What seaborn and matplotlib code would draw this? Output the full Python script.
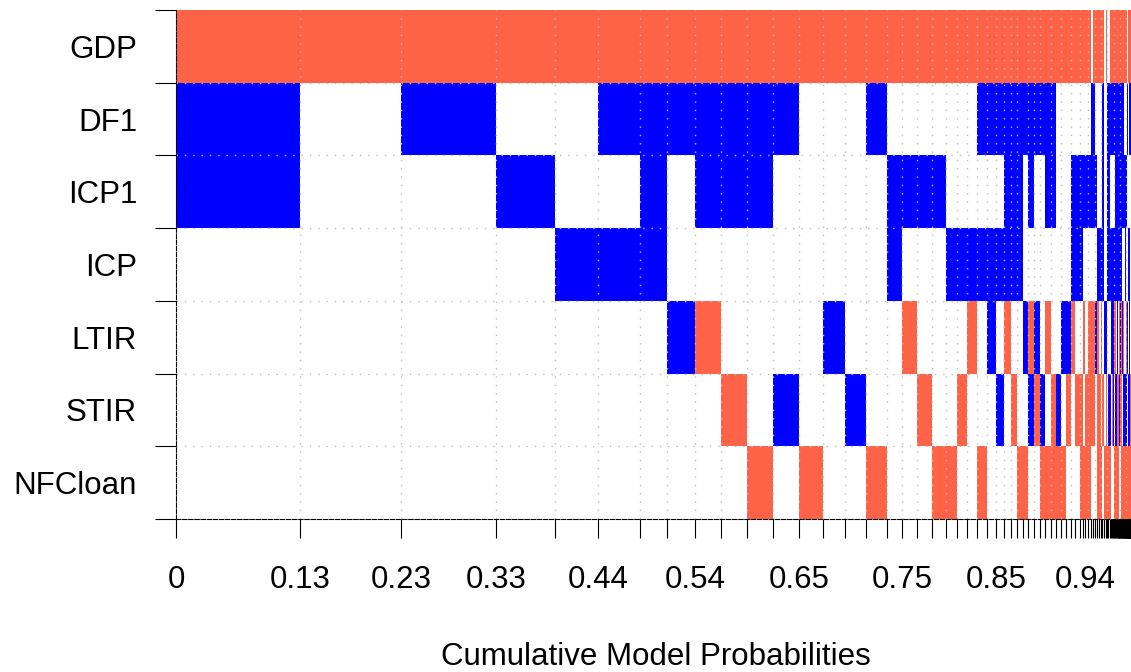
import numpy as np
import pandas as pd
import matplotlib
matplotlib.use("Agg")
import matplotlib.pyplot as plt
import seaborn as sns

# ---------------- data ----------------
variables = ["GDP", "DF1", "ICP1", "ICP", "LTIR", "STIR", "NFCloan"]

# posterior model probabilities (column widths), best model first
model_probs = [
    0.1286, 0.1048, 0.0985, 0.0612, 0.0446, 0.0436, 0.0285, 0.0285, 0.0275, 0.0268,
    0.0270, 0.0267, 0.0249, 0.0228, 0.0218, 0.0215, 0.0156, 0.0162, 0.0149, 0.0145,
    0.0117, 0.0104, 0.0104, 0.0104, 0.0093, 0.0083, 0.0067, 0.0067, 0.0059, 0.0057,
    0.0060, 0.0060, 0.0056, 0.0058, 0.0057, 0.0052, 0.0053, 0.0045, 0.0050, 0.0043,
    0.0030, 0.0029, 0.0028, 0.0026, 0.0024, 0.0022, 0.0021, 0.0020, 0.0019, 0.0018, 0.0017,
    0.0016, 0.0015, 0.0014, 0.0013, 0.0012, 0.0011, 0.0010, 0.0009, 0.0009, 0.0008,
    0.0008, 0.0007, 0.0007, 0.0006, 0.0006, 0.0006, 0.0005, 0.0005, 0.0005, 0.0005,
    0.0004, 0.0004, 0.0004, 0.0004, 0.0004, 0.0004, 0.0004, 0.0004, 0.0004, 0.0004,
    0.0003, 0.0003, 0.0003, 0.0003, 0.0003, 0.0003, 0.0003, 0.0003, 0.0003, 0.0003,
    0.0002, 0.0002, 0.0002, 0.0002, 0.0002, 0.0002, 0.0002, 0.0002, 0.0002, 0.0002,
    0.00015, 0.00015, 0.00015, 0.00015, 0.00015, 0.00015, 0.00015, 0.00015,
]

# inclusion / sign per model, in variable order GDP DF1 ICP1 ICP LTIR STIR NFCloan
# '-' negative coefficient, '+' positive coefficient, '.' not included
model_signs = [
    "-++....", "-......", "-+.....", "-.+....", "-..+...",
    "-+.+...", "-+++...", "-+..+..", "-++.-..", "-++..-.",
    "-++...-", "-+...+.", "-.....-", "-...+..", "-....+.",
    "-+....-", "-.++...", "-.+.-..", "-.+..-.", "-.+...-",
    "-..+..-", "-..+.-.", "-..+-..", "-+.+..-", "-+.++..",
    "-+.+.+.", "-+++-..", "-+++.-.", "-+++..-", "-+..+.-",
    "-++.-+.", "-+..+-.", "-+...+-", "-++.-.-", "-++..--",
    "-....+-", "-...+.-", "-...+-.", "-.++-..", "-.++.-.",
    "-.++.--", "-.+.-.-", "-.+..--", "-.+.---", ".++.--.",
    "-++.--.", "-.+.+..", "-..+---", "-..+.--", "-..+-.-",
    "-+++.-.", "....+.-", "-...+--", ".+++..-", ".+++.+-",
    "-+.+.+-", "-+.++..", "-+.++-.", "-+.+++.", "-+.+-.-",
    "-+++-.-", "-+++-+-", "-+++.+-", "-++++--", "-++++.-",
    "-+++.--", "-.++-.-", "-+++-+.", "-+++.+.", "-++++-.",
    "-.+++--", "-+++---", "-.++--.", "-+++++-", "-++.+.-",
    "-+..-+-", "-.+.+--", "-++.-+-", "-+.+-+-", "-.+..+-",
    "-++..+-", "-..++--", "-.++.+-", "-+..+--", "-..+-+-",
    "-.+++.-", "-.+.-+-", "-+.+.--", "-..+++-", ".+..+.-",
    "-.+.++-", ".+++.-.", ".++.+--", "-+..++-", "-..+.+-",
    "-...---", "-....--", "-...-+-", "-...++-", "-+.+++-",
    "-..++.-", "-.++++-", "-+.++--", "-++.++-", "-.+.+-.",
    "-+...--", "-+..---", "-+..--.", "-++..--",
]

# labelled x ticks: index of model boundary and its text
tick_label_idx = [0, 1, 2, 3, 5, 8, 12, 17, 25, 42]
tick_labels = ["0", "0.13", "0.23", "0.33", "0.44", "0.54", "0.65", "0.75", "0.85", "0.94"]

# ---------------- build table ----------------
n = min(len(model_probs), len(model_signs))
probs = np.array(model_probs[:n])
cum = np.concatenate([[0.0], np.cumsum(probs)])
records = []
nv = len(variables)
for j in range(n):
    s = model_signs[j]
    for i, v in enumerate(variables):
        ch = s[i]
        if ch == ".":
            continue
        records.append(dict(variable=v, row=nv - 1 - i, left=cum[j],
                            width=probs[j], sign=ch))
df = pd.DataFrame(records)

# ---------------- style ----------------
sns.set_theme(style="ticks")
plt.rcParams["font.family"] = ["Liberation Sans", "DejaVu Sans"]

W, H = 1131, 672
fig = plt.figure(figsize=(W / 100, H / 100), dpi=100)
ax = fig.add_axes([176 / W, 1 - 519 / H, (1131 - 176) / W, (519 - 10) / H])

colors = {"-": "#FF6347", "+": "#0000FF"}
for sign, g in df.groupby("sign"):
    ax.bar(g["left"], 1.0, width=g["width"], bottom=g["row"], align="edge",
           color=colors[sign], linewidth=0, antialiased=False, zorder=1)

# dotted grid
grid_kw = dict(color="#BEBEBE", lw=1.0, ls=(0, (1, 5)), zorder=3)
for y in range(1, nv):
    ax.axhline(y, **grid_kw)
last = 0.0
for b in cum[1:-1]:
    if b - last >= 0.006:
        ax.axvline(b, **grid_kw)
        last = b

ax.set_xlim(0, cum[-1])
ax.set_ylim(0, nv)

# x ticks at every model boundary
xt_text = [""] * len(cum)
for idx, lab in zip(tick_label_idx, tick_labels):
    xt_text[idx] = lab
ax.set_xticks(cum)
ax.set_xticklabels(xt_text)
ax.tick_params(axis="x", which="major", bottom=True, length=14, width=0.8,
               color="black", direction="out", pad=19, labelsize=22.5,
               labelcolor="black")

# y ticks at row boundaries, labels at row centres
ax.set_yticks(range(nv + 1))
ax.set_yticklabels([""] * (nv + 1))
ax.set_yticks(np.arange(nv) + 0.5, minor=True)
ax.set_yticklabels(variables[::-1], minor=True)
ax.tick_params(axis="y", which="major", left=True, length=15, width=0.8,
               color="black", direction="out")
ax.tick_params(axis="y", which="minor", left=True, length=0, pad=28,
               labelsize=22.5, labelcolor="black")

for sp in ["top", "right"]:
    ax.spines[sp].set_visible(False)
for sp in ["left", "bottom"]:
    ax.spines[sp].set_color("black")
    ax.spines[sp].set_linewidth(0.8)
    ax.spines[sp].set_linestyle((0, (4, 1.5)))
    ax.spines[sp].set_zorder(4)

ax.set_xlabel("Cumulative Model Probabilities", fontsize=22.5, color="black")
ax.xaxis.set_label_coords(0.503, -0.242)

fig.savefig("out.png", dpi=100)
